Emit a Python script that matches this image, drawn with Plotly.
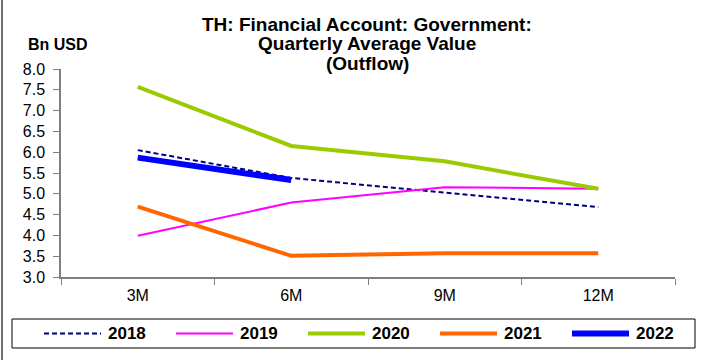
import plotly.graph_objects as go

# Quarterly average outflow, Bn USD
periods = ["3M", "6M", "9M", "12M"]
v2018 = [6.05, 5.38, 5.03, 4.68]
v2019 = [3.99, 4.79, 5.16, 5.12]
v2020 = [7.57, 6.15, 5.78, 5.12]
v2021 = [4.69, 3.51, 3.57, 3.57]
v2022 = [5.87, 5.33]

series = [
    ("2018", v2018, "#000080", 2.0, "5px,3px"),
    ("2019", v2019, "#FF00FF", 2.0, "solid"),
    ("2020", v2020, "#99CC00", 4.0, "solid"),
    ("2021", v2021, "#FF6600", 4.0, "solid"),
    ("2022", v2022, "#0000FF", 6.0, "solid"),
]

FONT = "Liberation Sans, Arial, sans-serif"
W, H = 701, 360
L, R, T, B = 61, 26, 69, 83
pw, ph = W - L - R, H - T - B


def px_x(px):
    return (px - L) / pw


def px_y(py):
    return (H - B - py) / ph


fig = go.Figure()
for name, vals, color, width, dash in series:
    fig.add_trace(go.Scatter(
        x=periods[:len(vals)], y=vals, name=name, mode="lines",
        line=dict(color=color, width=width, dash=dash),
    ))

annotations = []
shapes = []

# title, one annotation per line
title_lines = ["TH: Financial Account: Government:", "Quarterly Average Value", "(Outflow)"]
for i, line in enumerate(title_lines):
    annotations.append(dict(
        text=line, xref="paper", yref="paper", x=px_x(367), y=px_y(24 + 19.5 * i),
        xanchor="center", yanchor="middle", showarrow=False,
        font=dict(size=19, weight="bold", family=FONT),
    ))

annotations.append(dict(
    text="Bn USD", xref="paper", yref="paper", x=px_x(26), y=px_y(45),
    xanchor="left", yanchor="middle", showarrow=False,
    font=dict(size=16, weight="bold", family=FONT),
))

# legend box along the bottom
shapes.append(dict(type="rect", xref="paper", yref="paper",
                   x0=px_x(12), x1=px_x(695), y0=px_y(348), y1=px_y(319),
                   line=dict(color="black", width=1), fillcolor="white", layer="below"))
for i, (name, vals, color, width, dash) in enumerate(series):
    x0 = 44 + 132 * i
    shapes.append(dict(type="line", xref="paper", yref="paper",
                       x0=px_x(x0), x1=px_x(x0 + 57), y0=px_y(333.5), y1=px_y(333.5),
                       line=dict(color=color, width=width, dash=dash)))
    annotations.append(dict(
        text=name, xref="paper", yref="paper", x=px_x(x0 + 62), y=px_y(333.5),
        xanchor="left", yanchor="middle", showarrow=False,
        font=dict(size=17, weight="bold", family=FONT),
    ))

# left frame edge
shapes.append(dict(type="line", xref="paper", yref="paper",
                   x0=px_x(2), x1=px_x(2), y0=px_y(H), y1=px_y(0),
                   line=dict(color="#404040", width=1.5)))

fig.update_layout(
    width=W, height=H,
    margin=dict(l=L, r=R, t=T, b=B),
    paper_bgcolor="white", plot_bgcolor="white",
    font=dict(family=FONT, color="black", size=16),
    showlegend=False,
    xaxis=dict(
        type="category", categoryorder="array", categoryarray=periods,
        range=[-0.5, 3.5], tickson="boundaries", ticks="outside", ticklen=6,
        tickcolor="#808080", showline=True, linecolor="#808080", linewidth=1.5,
        showgrid=False, zeroline=False, tickfont=dict(size=16),
        ticklabelstandoff=3,
    ),
    yaxis=dict(
        range=[3, 8], dtick=0.5, tickformat=".1f", ticks="outside", ticklen=6,
        tickcolor="#808080", showline=True, linecolor="#808080", linewidth=1.5,
        showgrid=False, zeroline=False, tickfont=dict(size=16),
        ticklabelstandoff=5,
    ),
    annotations=annotations,
    shapes=shapes,
)

fig.write_html("out.html")
